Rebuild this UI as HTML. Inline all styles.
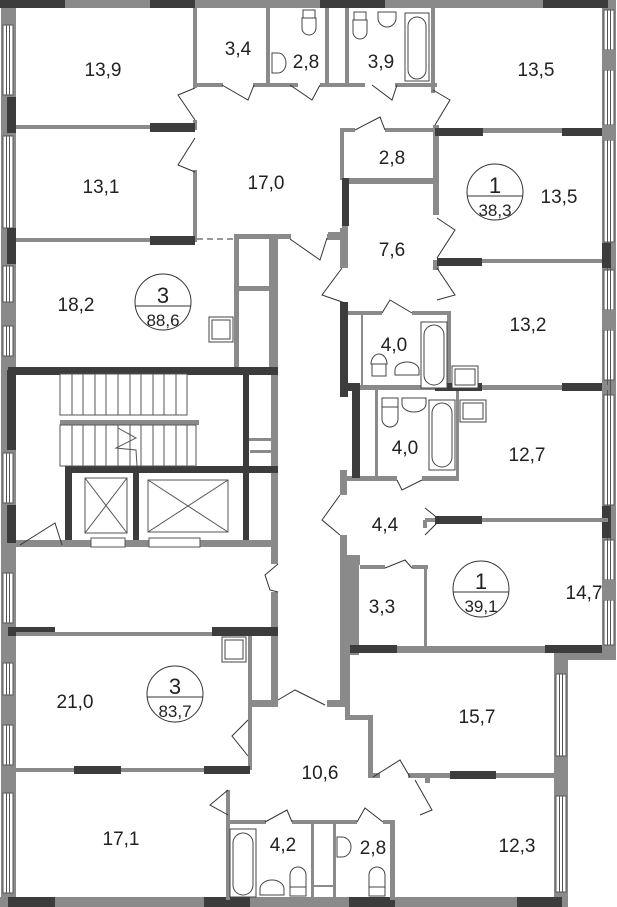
<!DOCTYPE html>
<html><head><meta charset="utf-8"><style>
html,body{margin:0;padding:0;background:#fff;}
svg{display:block;}
text{font-family:"Liberation Sans",sans-serif;fill:#222;}
</style></head><body>
<svg width="617" height="907" viewBox="0 0 617 907" xmlns="http://www.w3.org/2000/svg">
<rect width="617" height="907" fill="#fff"/>

<!-- left exterior wall -->
<rect x="1" y="0" width="15" height="907" fill="#8a8a8a"/>
<g fill="#fff" stroke="#555" stroke-width="1">
<rect x="3" y="25" width="10" height="70"/><rect x="3" y="136" width="10" height="92"/>
<rect x="3" y="266" width="10" height="36"/><rect x="3" y="326" width="10" height="30"/>
<rect x="3" y="453" width="10" height="50"/><rect x="3" y="573" width="10" height="50"/>
<rect x="3" y="663" width="10" height="32"/><rect x="3" y="725" width="10" height="40"/>
<rect x="3" y="793" width="10" height="100"/>
</g>
<g stroke="#555" stroke-width="1">
<line x1="6.5" y1="25" x2="6.5" y2="95"/><line x1="9.5" y1="25" x2="9.5" y2="95"/>
<line x1="6.5" y1="136" x2="6.5" y2="228"/><line x1="9.5" y1="136" x2="9.5" y2="228"/>
<line x1="6.5" y1="266" x2="6.5" y2="302"/><line x1="9.5" y1="266" x2="9.5" y2="302"/>
<line x1="6.5" y1="326" x2="6.5" y2="356"/><line x1="9.5" y1="326" x2="9.5" y2="356"/>
<line x1="6.5" y1="453" x2="6.5" y2="503"/><line x1="9.5" y1="453" x2="9.5" y2="503"/>
<line x1="6.5" y1="573" x2="6.5" y2="623"/><line x1="9.5" y1="573" x2="9.5" y2="623"/>
<line x1="6.5" y1="663" x2="6.5" y2="695"/><line x1="9.5" y1="663" x2="9.5" y2="695"/>
<line x1="6.5" y1="725" x2="6.5" y2="765"/><line x1="9.5" y1="725" x2="9.5" y2="765"/>
<line x1="6.5" y1="793" x2="6.5" y2="893"/><line x1="9.5" y1="793" x2="9.5" y2="893"/>
</g>
<g fill="#3c3c3c">
<rect x="7" y="97" width="9" height="36"/><rect x="7" y="228" width="9" height="36"/>
<rect x="7" y="370" width="9" height="80"/><rect x="7" y="505" width="9" height="38"/>
</g>

<!-- right exterior wall (upper) -->
<rect x="602" y="0" width="14" height="655" fill="#8a8a8a"/>
<g fill="#fff" stroke="#555" stroke-width="1">
<rect x="604" y="10" width="10" height="40"/><rect x="604" y="70" width="10" height="55"/>
<rect x="604" y="140" width="10" height="102"/><rect x="604" y="270" width="10" height="40"/>
<rect x="604" y="330" width="10" height="50"/><rect x="604" y="395" width="10" height="110"/>
<rect x="604" y="540" width="10" height="40"/><rect x="604" y="600" width="10" height="45"/>
</g>
<g stroke="#555" stroke-width="1">
<line x1="607.5" y1="10" x2="607.5" y2="645"/><line x1="610.5" y1="10" x2="610.5" y2="645"/>
</g>
<g fill="#8a8a8a">
<rect x="603" y="50" width="13" height="20"/><rect x="603" y="125" width="13" height="15"/>
<rect x="603" y="310" width="13" height="20"/><rect x="603" y="580" width="13" height="20"/>
</g>
<g fill="#3c3c3c"><rect x="602" y="243" width="9" height="25"/><rect x="602" y="506" width="9" height="32"/></g>
<!-- lower right exterior -->
<rect x="554" y="648" width="62" height="12" fill="#8a8a8a"/>
<rect x="554" y="655" width="14" height="252" fill="#8a8a8a"/>
<g fill="#fff" stroke="#555" stroke-width="1">
<rect x="556" y="674" width="10" height="82"/><rect x="556" y="796" width="10" height="96"/>
</g>
<g stroke="#555"><line x1="559.5" y1="674" x2="559.5" y2="756"/><line x1="562.5" y1="674" x2="562.5" y2="756"/>
<line x1="559.5" y1="796" x2="559.5" y2="892"/><line x1="562.5" y1="796" x2="562.5" y2="892"/></g>

<!-- top wall -->
<rect x="0" y="0" width="612" height="8" fill="#8a8a8a"/>
<g fill="#3c3c3c"><rect x="0" y="0" width="65" height="8"/><rect x="150" y="0" width="45" height="8"/>
<rect x="320" y="0" width="65" height="8"/><rect x="543" y="0" width="65" height="8"/></g>
<!-- bottom wall -->
<rect x="0" y="897" width="568" height="10" fill="#8a8a8a"/>
<g fill="#3c3c3c"><rect x="8" y="897" width="47" height="10"/><rect x="204" y="897" width="46" height="10"/>
<rect x="349" y="897" width="46" height="10"/><rect x="517" y="897" width="45" height="10"/></g>

<!-- interior gray walls -->
<g fill="#8a8a8a">
<rect x="16" y="125" width="140" height="4"/><rect x="16" y="238" width="140" height="4"/>
<rect x="193" y="8" width="4" height="80"/><rect x="193" y="120" width="4" height="10"/>
<rect x="193" y="170" width="4" height="72"/>
<rect x="193" y="83" width="30" height="4"/><rect x="253" y="83" width="45" height="4"/>
<rect x="266" y="8" width="4" height="77"/><rect x="320" y="83" width="45" height="4"/>
<rect x="325" y="8" width="4" height="77"/><rect x="345" y="8" width="4" height="77"/>
<rect x="395" y="83" width="42" height="4"/><rect x="431" y="8" width="4" height="85"/>
<rect x="340" y="128" width="15" height="4"/><rect x="385" y="128" width="50" height="4"/>
<rect x="340" y="128" width="4" height="52"/><rect x="344" y="178" width="91" height="6"/>
<rect x="433" y="125" width="6" height="90"/><rect x="433" y="260" width="6" height="10"/>
<rect x="482" y="128" width="80" height="5"/><rect x="482" y="259" width="120" height="4"/>
<rect x="342" y="225" width="6" height="43"/><rect x="328" y="232" width="16" height="7"/>
<rect x="234" y="234" width="40" height="5"/><rect x="234" y="234" width="5" height="136"/>
<rect x="269" y="234" width="5" height="140"/><rect x="234" y="286" width="40" height="5"/>
<rect x="271" y="234" width="20" height="5"/><rect x="271" y="234" width="7" height="330"/>
<rect x="271" y="592" width="7" height="110"/><rect x="252" y="700" width="26" height="7"/>
<rect x="248" y="636" width="4" height="134"/><rect x="249" y="438" width="25" height="3"/>
<rect x="327" y="234" width="20" height="6"/><rect x="340" y="228" width="7" height="40"/>
<rect x="340" y="470" width="7" height="25"/><rect x="340" y="535" width="7" height="172"/>
<rect x="327" y="700" width="20" height="7"/>
<rect x="348" y="311" width="34" height="4"/><rect x="412" y="311" width="38" height="4"/>
<rect x="447" y="311" width="4" height="76"/><rect x="361" y="313" width="2" height="74"/>
<rect x="343" y="385" width="265" height="5"/>
<rect x="375" y="390" width="3" height="88"/><rect x="456" y="390" width="3" height="88"/>
<rect x="347" y="476" width="50" height="5"/><rect x="422" y="476" width="37" height="5"/>
<rect x="425" y="518" width="183" height="4"/><rect x="423" y="520" width="4" height="8"/>
<rect x="345" y="555" width="15" height="10"/><rect x="345" y="555" width="14" height="100"/>
<rect x="360" y="565" width="25" height="4"/><rect x="412" y="565" width="16" height="4"/>
<rect x="424" y="565" width="3" height="85"/>
<rect x="345" y="646" width="263" height="7"/>
<rect x="16" y="768" width="234" height="4"/>
<rect x="345" y="650" width="5" height="70"/><rect x="345" y="715" width="27" height="5"/>
<rect x="368" y="715" width="5" height="62"/><rect x="368" y="773" width="12" height="5"/>
<rect x="408" y="773" width="148" height="5"/>
<rect x="226" y="790" width="4" height="110"/><rect x="226" y="820" width="40" height="4"/>
<rect x="292" y="820" width="65" height="4"/><rect x="383" y="820" width="12" height="4"/>
<rect x="311" y="824" width="3" height="75"/><rect x="333" y="824" width="3" height="75"/>
<rect x="314" y="885" width="20" height="2"/><rect x="390" y="820" width="5" height="80"/>
<rect x="425" y="773" width="5" height="10"/>
</g>

<!-- dark walls -->
<g fill="#3c3c3c">
<rect x="150" y="123" width="45" height="9"/><rect x="150" y="236" width="45" height="9"/>
<rect x="435" y="128" width="48" height="8"/><rect x="562" y="128" width="40" height="8"/>
<rect x="342" y="178" width="7" height="48"/>
<rect x="437" y="258" width="45" height="8"/>
<rect x="340" y="302" width="8" height="95"/><rect x="340" y="383" width="20" height="8"/>
<rect x="352" y="390" width="8" height="88"/><rect x="435" y="383" width="47" height="8"/>
<rect x="562" y="383" width="40" height="8"/>
<rect x="435" y="516" width="47" height="8"/>
<rect x="350" y="645" width="47" height="8"/><rect x="545" y="645" width="57" height="8"/>
<rect x="8" y="367" width="270" height="8"/><rect x="243" y="370" width="6" height="175"/>
<rect x="65" y="466" width="213" height="7"/><rect x="65" y="466" width="7" height="79"/>
<rect x="133" y="470" width="6" height="75"/>
<rect x="8" y="627" width="47" height="9"/><rect x="212" y="627" width="66" height="9"/>
<rect x="74" y="766" width="47" height="8"/><rect x="204" y="766" width="46" height="8"/>
<rect x="450" y="771" width="46" height="8"/>
</g>
<rect x="16" y="540" width="262" height="7" fill="#8a8a8a"/>
<rect x="16" y="632" width="196" height="4" fill="#8a8a8a"/>
<rect x="60" y="420" width="139" height="5" fill="#8a8a8a"/>
<rect x="250" y="450" width="22" height="3" fill="#8a8a8a"/>
<g fill="#fff" stroke="#555" stroke-width="1">
<rect x="60" y="374" width="127" height="41"/><rect x="60" y="425" width="136" height="41"/>
<rect x="91" y="538" width="34" height="9"/><rect x="149" y="538" width="51" height="9"/>
<rect x="85" y="478" width="42" height="55"/><rect x="148" y="480" width="80" height="52"/>
</g>
<g stroke="#555" stroke-width="1">
<path d="M72 374V415M83 374V415M95 374V415M106 374V415M118 374V415M130 374V415M141 374V415M153 374V415M164 374V415M176 374V415"/>
<path d="M72 425V466M83 425V466M95 425V466M106 425V466M118 425V466M130 425V466M141 425V466M153 425V466M164 425V466M176 425V466M187 425V466"/>
<path d="M85 478L127 533M127 478L85 533M148 480L228 532M228 480L148 532"/>
<path d="M118 428L136 438L116 448L136 450L137 466" fill="none"/>
</g>

<!-- doors -->
<g fill="none" stroke="#333" stroke-width="1">
<path d="M195 88L178 95L195 120"/><path d="M195 138L178 165L195 172"/>
<path d="M222 85L248 100L254 85"/><path d="M290 85L312 100L320 85"/>
<path d="M372 85L392 100L397 85"/><path d="M433 90L450 100L435 125"/>
<path d="M355 130L380 117L385 130"/>
<path d="M437 218L455 230L437 258"/><path d="M437 268L455 295L437 300"/>
<path d="M342 268L322 295L345 303"/><path d="M290 239L320 260L327 238"/>
<path d="M382 313L390 300L412 313"/>
<path d="M340 495L322 520L340 535"/>
<path d="M397 480L402 490L422 480"/><path d="M425 508L440 520L425 535"/>
<path d="M385 568L405 560L412 568"/>
<path d="M278 564L265 575L270 590L278 592"/>
<path d="M20 545L55 523L62 545"/>
<path d="M248 720L232 736L248 756"/><path d="M228 790L210 805L228 815"/>
<path d="M265 822L287 810L292 822"/><path d="M357 822L365 808L383 822"/>
<path d="M373 777L400 760L410 777"/><path d="M415 780L432 810L420 815"/>
<path d="M278 700L295 690L325 705"/>
</g>

<!-- fixtures -->
<g fill="#fff" stroke="#444" stroke-width="1">
<path d="M303 10h12v8h-12z"/><path d="M302 18h14v10a7 7 0 0 1 -14 0z"/>
<path d="M272 53h6a8 10 0 0 1 0 20h-6z"/>
<path d="M354 12h12v8h-12z"/><path d="M353 20h14v12a7 7 0 0 1 -14 0z"/>
<path d="M378 12h18v6a9 9 0 0 1 -18 0z"/>
<rect x="405" y="13" width="24" height="68"/><rect x="408" y="17" width="18" height="62" rx="9"/>
<rect x="209" y="317" width="24" height="25"/><rect x="212" y="320" width="18" height="19"/>
<rect x="222" y="637" width="24" height="25"/><rect x="225" y="640" width="18" height="19"/>
<rect x="452" y="366" width="26" height="22"/><rect x="455" y="369" width="20" height="16"/>
<rect x="460" y="400" width="26" height="22"/><rect x="463" y="403" width="20" height="16"/>
<rect x="421" y="322" width="26" height="66"/><rect x="424" y="325" width="20" height="60" rx="10"/>
<path d="M372 364h14v12h-14z"/><path d="M371 364a8 10 0 0 1 16 0z"/>
<path d="M395 375v-5a12 8 0 0 1 24 0v5z"/>
<rect x="429" y="400" width="26" height="70"/><rect x="432" y="403" width="20" height="64" rx="10"/>
<path d="M382 398h16v9h-16z"/><path d="M382 407h16v12a8 8 0 0 1 -16 0z"/>
<path d="M402 398h24v6a12 8 0 0 1 -24 0z"/>
<rect x="230" y="829" width="26" height="68"/><rect x="233" y="833" width="20" height="62" rx="10"/>
<path d="M260 895v-6a12 9 0 0 1 24 0v6z"/>
<path d="M290 887h16v9h-16z"/><path d="M290 887v-12a8 8 0 0 1 16 0v12z"/>
<path d="M337 837h5a9 10 0 0 1 0 20h-5z"/>
<path d="M369 887h16v9h-16z"/><path d="M369 887v-12a8 8 0 0 1 16 0v12z"/>
</g>
<line x1="197" y1="239" x2="234" y2="239" stroke="#333" stroke-dasharray="6,4"/>

<!-- labels -->
<g font-size="19" text-anchor="middle">
<text x="103" y="76">13,9</text><text x="238" y="55">3,4</text><text x="306" y="68">2,8</text>
<text x="381" y="68">3,9</text><text x="536" y="76">13,5</text>
<text x="101" y="193">13,1</text><text x="266" y="189">17,0</text><text x="392" y="164">2,8</text>
<text x="559" y="203">13,5</text><text x="392" y="256">7,6</text>
<text x="76" y="311">18,2</text><text x="394" y="351">4,0</text><text x="528" y="331">13,2</text>
<text x="405" y="454">4,0</text><text x="527" y="461">12,7</text>
<text x="385" y="531">4,4</text><text x="382" y="613">3,3</text><text x="584" y="599">14,7</text>
<text x="75" y="708">21,0</text><text x="477" y="723">15,7</text><text x="320" y="779">10,6</text>
<text x="121" y="845">17,1</text><text x="283" y="851">4,2</text><text x="373" y="854">2,8</text>
<text x="517" y="852">12,3</text>
</g>
<g fill="none" stroke="#333" stroke-width="1">
<circle cx="163" cy="302" r="28"/><line x1="135" y1="306" x2="191" y2="306"/>
<circle cx="495" cy="192" r="28"/><line x1="467" y1="196" x2="523" y2="196"/>
<circle cx="481" cy="589" r="28"/><line x1="453" y1="592" x2="509" y2="592"/>
<circle cx="175" cy="694" r="28"/><line x1="147" y1="697" x2="203" y2="697"/>
</g>
<g font-size="22" text-anchor="middle">
<text x="163" y="303">3</text><text x="495" y="193">1</text><text x="481" y="589">1</text><text x="175" y="694">3</text>
</g>
<g font-size="17" text-anchor="middle">
<text x="163" y="326">88,6</text><text x="495" y="216">38,3</text><text x="481" y="612">39,1</text><text x="175" y="717">83,7</text>
</g>
</svg>
</body></html>
